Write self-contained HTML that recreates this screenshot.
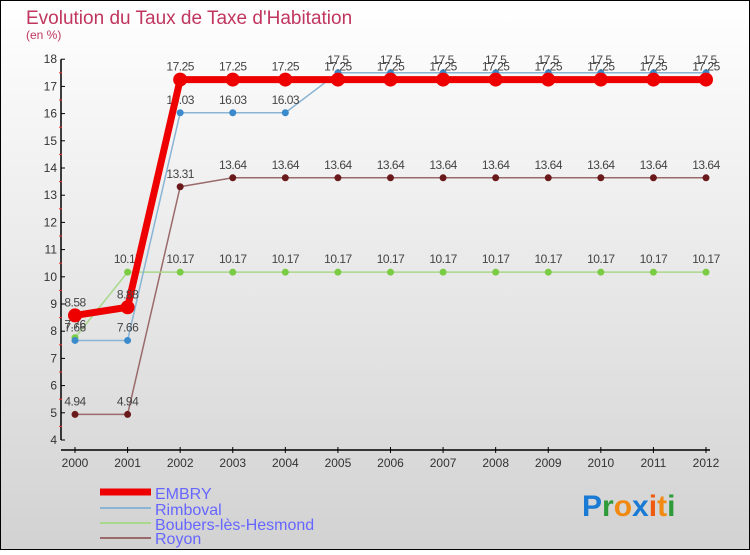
<!DOCTYPE html>
<html><head><meta charset="utf-8"><style>
body{margin:0;width:750px;height:550px;overflow:hidden;font-family:"Liberation Sans",sans-serif}
</style></head><body>
<svg id="c" width="750" height="550" xmlns="http://www.w3.org/2000/svg">
<defs><linearGradient id="bg" x1="0" y1="0" x2="0" y2="1"><stop offset="0" stop-color="#ffffff"/><stop offset="1" stop-color="#d2d2d2"/></linearGradient></defs>
<rect x="0.5" y="0.5" width="749" height="549" fill="url(#bg)" stroke="#000"/>
<text x="26" y="24" font-size="19" fill="#c0365e">Evolution du Taux de Taxe d'Habitation</text>
<text x="26" y="39" font-size="12" fill="#c0365e">(en %)</text>
<g id="axes"></g><g id="series"></g>
<g>
<line x1="100" y1="492" x2="151" y2="492" stroke="#ee0000" stroke-width="7"/>
<text x="155" y="499" font-size="16" fill="#6666ff">EMBRY</text>
<line x1="100" y1="508" x2="151" y2="508" stroke="#8ab4d4" stroke-width="2"/>
<text x="155" y="515" font-size="16" fill="#6666ff">Rimboval</text>
<line x1="100" y1="523" x2="151" y2="523" stroke="#a8d88a" stroke-width="2"/>
<text x="155" y="530" font-size="16" fill="#6666ff">Boubers-lès-Hesmond</text>
<line x1="100" y1="538" x2="151" y2="538" stroke="#9a6a6a" stroke-width="2"/>
<text x="155" y="544" font-size="16" fill="#6666ff">Royon</text>
</g>
<g font-size="30" font-weight="bold">
<text x="582" y="516"><tspan fill="#1a7ad4">P</tspan><tspan fill="#2e9a3a">r</tspan><tspan fill="#f08a10">o</tspan><tspan fill="#1a7ad4">x</tspan><tspan fill="#f05a10">i</tspan><tspan fill="#f08a10">t</tspan><tspan fill="#2e9a3a">i</tspan></text>
</g>
</svg>
<script>
const years=[2000,2001,2002,2003,2004,2005,2006,2007,2008,2009,2010,2011,2012];
const embry=[8.58,8.88,17.25,17.25,17.25,17.25,17.25,17.25,17.25,17.25,17.25,17.25,17.25];
const rimboval=[7.66,7.66,16.03,16.03,16.03,17.5,17.5,17.5,17.5,17.5,17.5,17.5,17.5];
const boubers=[7.76,10.17,10.17,10.17,10.17,10.17,10.17,10.17,10.17,10.17,10.17,10.17,10.17];
const royon=[4.94,4.94,13.31,13.64,13.64,13.64,13.64,13.64,13.64,13.64,13.64,13.64,13.64];
const yTicks=[4,5,6,7,8,9,10,11,12,13,14,15,16,17,18];
const NS="http://www.w3.org/2000/svg";
const X=i=>75+i*(631/(years.length-1));
const Y=v=>440-(v-4)*27.2;
function mk(t,a,p){const e=document.createElementNS(NS,t);for(const k in a)e.setAttribute(k,a[k]);p.appendChild(e);return e;}
const ax=document.getElementById('axes');
let l=mk('line',{x1:61,y1:Y(18),x2:61,y2:Y(4),stroke:'#000','stroke-width':1.5},ax);


l=mk('line',{x1:61,y1:450,x2:710,y2:450,stroke:'#000','stroke-width':1.5},ax);


yTicks.forEach(v=>{mk('line',{x1:61,y1:Y(v),x2:65,y2:Y(v),stroke:'#000'},ax);
 if(v<18)mk('line',{x1:59,y1:Y(v+0.5),x2:62,y2:Y(v+0.5),stroke:'#e33'},ax);
 const t=mk('text',{x:57,y:Y(v)+4,'font-size':12,fill:'#333','text-anchor':'end'},ax);t.textContent=v;
 
 });
years.forEach((y,i)=>{mk('line',{x1:X(i),y1:447,x2:X(i),y2:453,stroke:'#000'},ax);
 const t=mk('text',{x:X(i),y:467,'font-size':12,fill:'#333','text-anchor':'middle'},ax);t.textContent=y;
 
 });
const sg=document.getElementById('series');
function draw(data,color,w,r,dot,name){
 const g=mk('g',{},sg);
 
 
 mk('polyline',{points:data.map((v,i)=>X(i)+','+Y(v)).join(' '),fill:'none',stroke:color,'stroke-width':w,'stroke-linejoin':'round'},g);
 data.forEach((v,i)=>{const c=mk('circle',{cx:X(i),cy:Y(v),r:r,fill:dot},g);
  
  
  const t=mk('text',{x:X(i),y:Y(v)-9,'font-size':12,fill:'#444','text-anchor':'middle','letter-spacing':'-0.5'},g);t.textContent=v;
  
  });
}
draw(royon,'#9a6a6a',1.5,3.5,'#6a1a1a','royon');
draw(boubers,'#a8d88a',1.5,3.5,'#7acc44','boubers');
draw(rimboval,'#8ab4d4',1.5,3.5,'#3a8acc','rimboval');
draw(embry,'#ee0000',7,7,'#ee0000','embry');
</script>
</body></html>
